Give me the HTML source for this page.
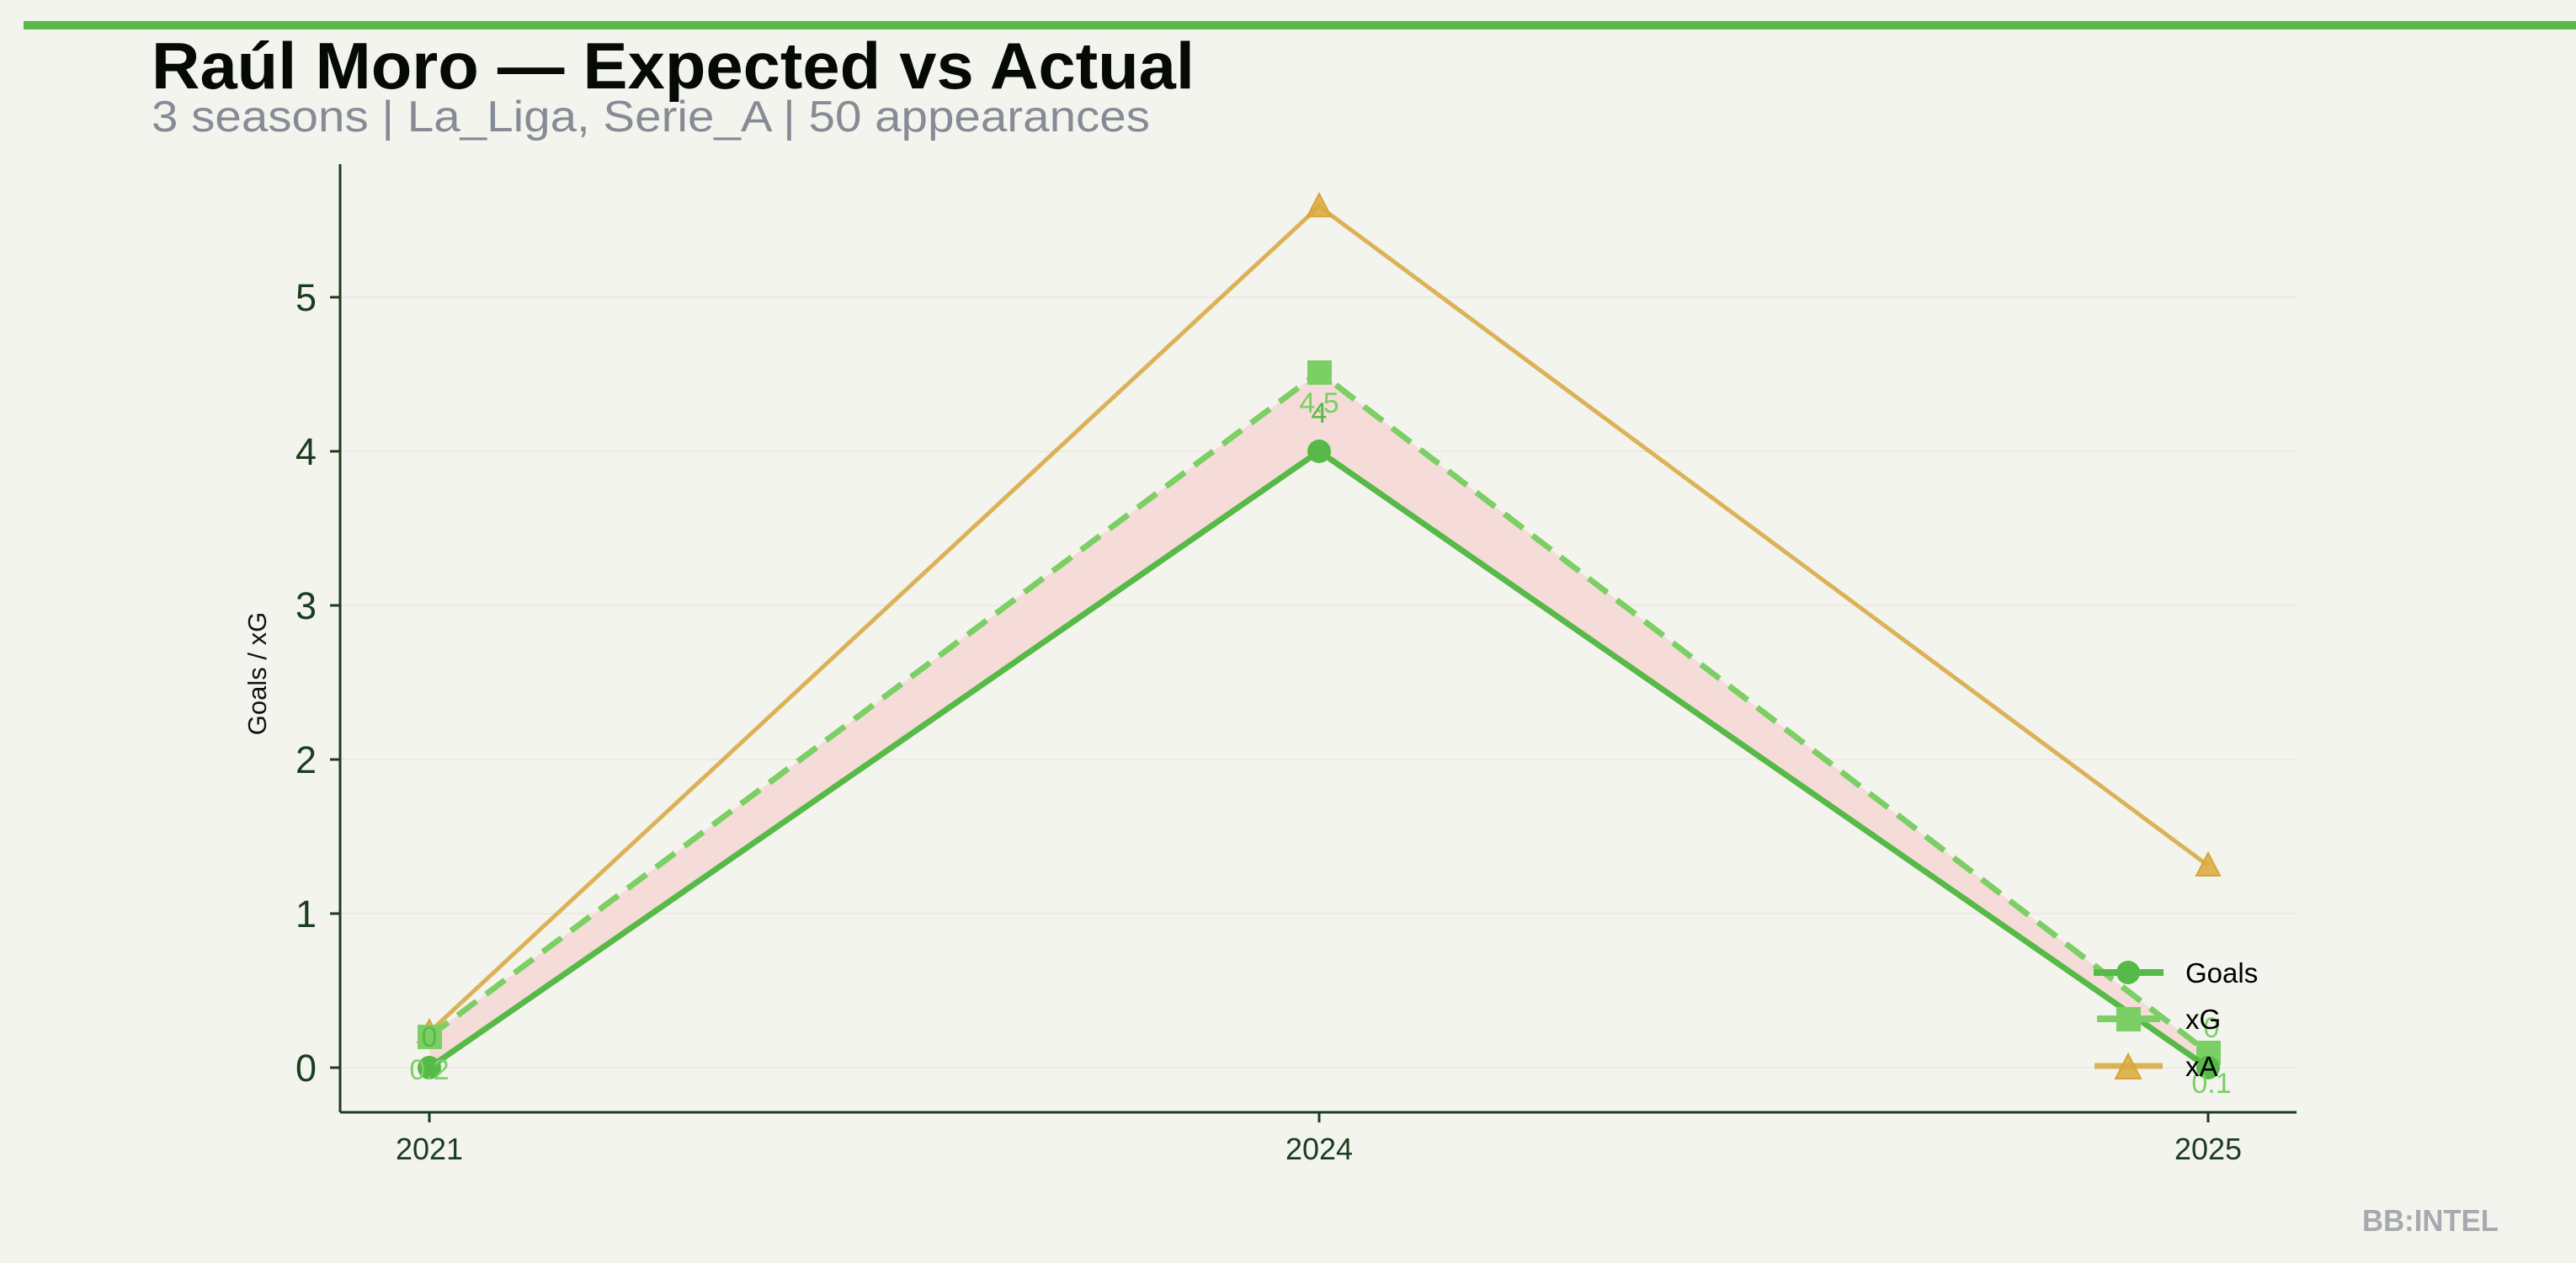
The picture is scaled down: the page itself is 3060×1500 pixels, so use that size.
<!DOCTYPE html>
<html><head><meta charset="utf-8"><style>
html,body{margin:0;padding:0;background:#f4f4ee;}
svg{display:block;}
</style></head><body>
<svg width="3060" height="1500" viewBox="0 0 3060 1500" xmlns="http://www.w3.org/2000/svg" font-family="Liberation Sans, sans-serif">
<rect width="3060" height="1500" fill="#f4f4ee"/>
<rect x="28" y="25" width="3032" height="10" fill="#5bb94a"/>
<text x="180" y="105" font-size="78" font-weight="bold" fill="#060a07" textLength="1239" lengthAdjust="spacingAndGlyphs">Raúl Moro — Expected vs Actual</text>
<text x="180" y="156" font-size="52" fill="#868b96" textLength="1186" lengthAdjust="spacingAndGlyphs">3 seasons | La_Liga, Serie_A | 50 appearances</text>
<g stroke="#ebebe2" stroke-width="2">
<line x1="404" x2="2728" y1="1268" y2="1268"/>
<line x1="404" x2="2728" y1="1085" y2="1085"/>
<line x1="404" x2="2728" y1="902" y2="902"/>
<line x1="404" x2="2728" y1="719" y2="719"/>
<line x1="404" x2="2728" y1="536" y2="536"/>
<line x1="404" x2="2728" y1="353" y2="353"/>
</g>
<g stroke="#1a3d1f" stroke-width="3">
<line x1="404" y1="195" x2="404" y2="1321"/>
<line x1="404" y1="1321" x2="2728" y2="1321"/>
<line x1="392" x2="404" y1="1268" y2="1268"/>
<line x1="392" x2="404" y1="1085" y2="1085"/>
<line x1="392" x2="404" y1="902" y2="902"/>
<line x1="392" x2="404" y1="719" y2="719"/>
<line x1="392" x2="404" y1="536" y2="536"/>
<line x1="392" x2="404" y1="353" y2="353"/>
<line x1="510" x2="510" y1="1321" y2="1333"/>
<line x1="1567" x2="1567" y1="1321" y2="1333"/>
<line x1="2623" x2="2623" y1="1321" y2="1333"/>
</g>
<g font-size="45" fill="#1a3d1f" text-anchor="end">
<text x="376" y="1284">0</text>
<text x="376" y="1101">1</text>
<text x="376" y="918">2</text>
<text x="376" y="735">3</text>
<text x="376" y="552">4</text>
<text x="376" y="369">5</text>
</g>
<g font-size="36" fill="#1a3d1f" text-anchor="middle">
<text x="510" y="1377">2021</text>
<text x="1567" y="1377">2024</text>
<text x="2623" y="1377">2025</text>
</g>
<text transform="translate(316,800) rotate(-90)" font-size="31" fill="#111" text-anchor="middle">Goals / xG</text>
<polygon points="510,1268 1567,536 2623,1268 2623,1250 1567,442 510,1231" fill="#f5dcd8"/>
<polyline points="510,1226 1567,245 2623,1028" fill="none" stroke="#dbb257" stroke-width="5"/>
<g fill="#d9a93a" fill-opacity="0.85" stroke="#d9a33a" stroke-width="2">
<polygon points="510,1211 524,1238 496,1238"/>
<polygon points="1567,230 1581,257 1553,257"/>
<polygon points="2623,1013 2637,1040 2609,1040"/>
</g>
<polyline points="510,1231 1567,442 2623,1250" fill="none" stroke="#7ccf65" stroke-width="7" stroke-dasharray="28,14"/>
<g fill="#7ccf65">
<rect x="496" y="1217" width="29" height="29"/>
<rect x="1553" y="428" width="29" height="29"/>
<rect x="2609" y="1236" width="29" height="29"/>
</g>
<polyline points="510,1268 1567,536 2623,1268" fill="none" stroke="#57b947" stroke-width="7"/>
<g fill="#57b947">
<circle cx="510" cy="1268" r="14"/>
<circle cx="1567" cy="536" r="14"/>
<circle cx="2623" cy="1268" r="14"/>
</g>
<g font-size="34" text-anchor="middle">
<text x="1567" y="490" fill="#7ccf65">4.5</text>
<text x="1567" y="502" fill="#57b947">4</text>
<text x="510" y="1243" fill="#57b947">0</text>
<text x="510" y="1282" fill="#7ccf65">0.2</text>
<text x="2627" y="1232" fill="#7ccf65">0</text>
<text x="2627" y="1298" fill="#7ccf65">0.1</text>
</g>
<line x1="2487" x2="2570" y1="1155" y2="1155" stroke="#57b947" stroke-width="8"/>
<circle cx="2528" cy="1155" r="14" fill="#57b947"/>
<line x1="2491" x2="2566" y1="1210" y2="1210" stroke="#7ccf65" stroke-width="8"/>
<rect x="2514" y="1196" width="29" height="29" fill="#7ccf65"/>
<line x1="2488" x2="2569" y1="1266" y2="1266" stroke="#dbb257" stroke-width="7"/>
<polygon points="2528,1252 2543,1281 2513,1281" fill="#d9a93a" fill-opacity="0.85" stroke="#d9a33a" stroke-width="2"/>
<g font-size="33" fill="#000">
<text x="2596" y="1167">Goals</text>
<text x="2596" y="1222">xG</text>
<text x="2596" y="1278">xA</text>
</g>
<text x="2806" y="1462" font-size="36" font-weight="bold" fill="#a6a9ae" textLength="162" lengthAdjust="spacingAndGlyphs">BB:INTEL</text>
</svg>
</body></html>
